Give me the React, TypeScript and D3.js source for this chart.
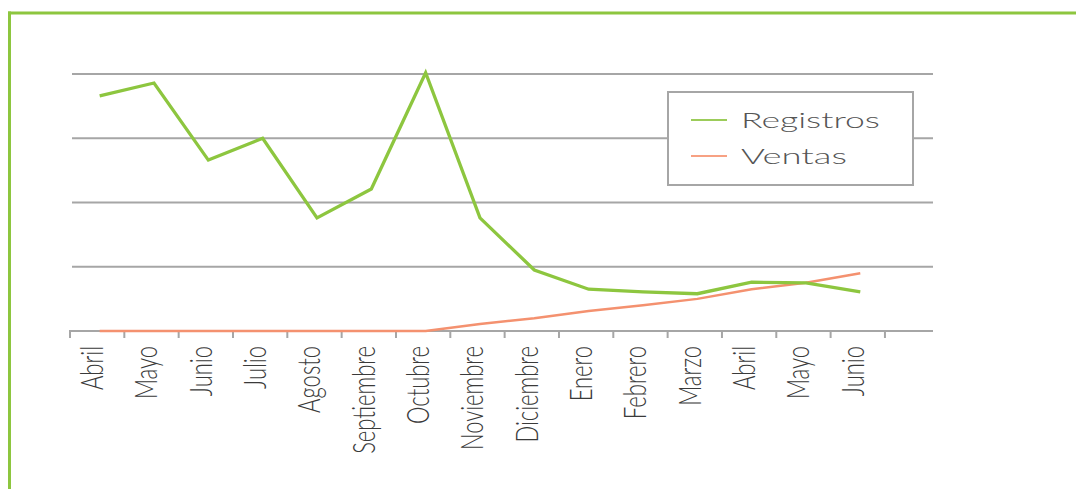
import React from "react";
import * as d3 from "d3";

const categories = [
  "Abril", "Mayo", "Junio", "Julio", "Agosto", "Septiembre", "Octubre",
  "Noviembre", "Diciembre", "Enero", "Febrero", "Marzo", "Abril", "Mayo", "Junio",
];
const registros = [366, 386, 266, 300, 176, 221, 402, 176, 95, 65, 61, 58, 76, 75, 61];
const ventas = [0, 0, 0, 0, 0, 0, 0, 11, 20, 31, 40, 50, 65, 75, 90];
const yTicks = [0, 100, 200, 300, 400];
const seriesNames = ["Registros", "Ventas"];

const W = 1076;
const H = 489;
const GREEN = "#8dc63f";
const ORANGE = "#f4916f";
const GRID = "#a6a6a6";

export default function App() {
  const idx = categories.map((_, i) => i);
  const x = d3.scaleBand<number>().domain(idx).range([70, 70 + 54.33 * categories.length]).paddingInner(0).paddingOuter(0);
  const axisEnd = 933;
  const y = d3.scaleLinear().domain([0, 400]).range([331, 74]);
  const cx = (i: number) => (x(i) as number) + x.bandwidth() / 2;

  const line = d3.line<number>().x((_, i) => cx(i) + 2.5).y((d) => y(d));

  const tickXs = [...idx.map((i) => x(i) as number), (x(idx.length - 1) as number) + x.bandwidth()];

  return (
    <svg width={W} height={H} style={{ position: "absolute", left: 0, top: 0, display: "block", background: "#fff" }}>
      {/* frame */}
      <line x1={8} x2={W} y1={13} y2={13} stroke={GREEN} strokeWidth={3} />
      <line x1={9.5} x2={9.5} y1={11.5} y2={H} stroke={GREEN} strokeWidth={3} />

      {/* grid */}
      {yTicks.slice(1).map((t) => (
        <line key={t} x1={72} x2={axisEnd} y1={y(t)} y2={y(t)} stroke={GRID} strokeWidth={2} />
      ))}
      {/* x axis */}
      <line x1={69} x2={axisEnd} y1={y(0)} y2={y(0)} stroke={GRID} strokeWidth={2} />
      {tickXs.map((tx, i) => (
        <line key={i} x1={tx} x2={tx} y1={y(0)} y2={y(0) + 7} stroke={GRID} strokeWidth={2} />
      ))}
      {categories.map((c, i) => (
        <text
          key={i}
          transform={`translate(${cx(i) + 6},346) scale(1.4,1) rotate(-90)`}
          textAnchor="end"
          fontFamily="Lato, 'Open Sans', sans-serif"
          fontWeight={300}
          fontSize={22}
          fill="#3a3a3a"
        >
          {c}
        </text>
      ))}

      {/* series */}
      <path d={line(ventas) as string} fill="none" stroke={ORANGE} strokeWidth={2.5} strokeLinejoin="round" />
      <path d={line(registros) as string} fill="none" stroke={GREEN} strokeWidth={3.3} strokeLinejoin="miter" />

      {/* legend */}
      <rect x={668} y={92} width={245} height={93} fill="#fff" stroke={GRID} strokeWidth={2} />
      {seriesNames.map((s, i) => (
        <g key={s}>
          <line x1={691} x2={727} y1={120 + i * 36} y2={120 + i * 36} stroke={i === 0 ? "#9ccc5a" : "#f7a183"} strokeWidth={2} />
          <text
            x={741}
            y={128 + i * 36}
            fontFamily="Lato, 'Open Sans', sans-serif"
            fontWeight={300}
            fontSize={21}
            fill="#555"
            textLength={i === 0 ? 139 : 106}
            lengthAdjust="spacingAndGlyphs"
          >
            {s}
          </text>
        </g>
      ))}
    </svg>
  );
}
